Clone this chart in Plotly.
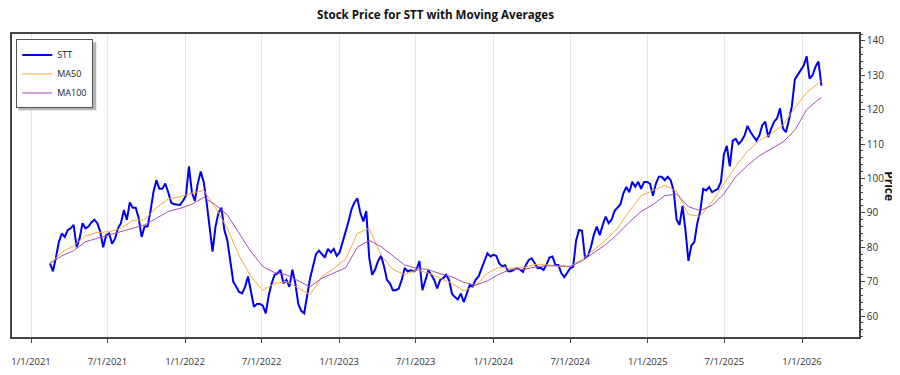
import pandas as pd
import plotly.graph_objects as go

# ---------------- data ----------------
start_date = "2021-02-15"          # first weekly sample
step = "7D"

stt_price = [
    75.3, 73.0, 77.0, 81.5, 84.0, 83.0, 85.0, 85.5, 86.5, 80.0,
    82.5, 87.0, 85.5, 86.0, 87.2, 88.0, 87.0, 84.5, 80.0, 83.5,
    84.0, 81.0, 82.5, 85.5, 87.0, 90.8, 88.0, 93.0, 91.5, 91.5,
    88.5, 83.0, 86.0, 86.0, 90.5, 96.0, 99.5, 97.0, 97.0, 98.5,
    96.0, 93.0, 92.5, 92.5, 92.3, 93.5, 95.0, 103.5, 96.0, 93.5,
    98.5, 102.0, 99.0, 93.0, 85.0, 78.7, 86.0, 90.0, 91.5, 85.0,
    82.0, 75.5, 70.0, 68.5, 67.0, 66.6, 68.5, 71.5, 67.5, 62.7,
    63.5, 63.5, 63.0, 60.8, 66.0, 69.5, 72.0, 72.4, 73.4, 69.5,
    70.5, 68.5, 73.5, 69.5, 63.5, 61.5, 60.8, 65.6, 71.0, 74.5,
    78.0, 79.0, 78.0, 77.0, 79.5, 78.5, 79.5, 77.5, 78.5, 81.5,
    84.0, 87.5, 91.0, 93.0, 94.2, 90.0, 87.5, 90.5, 77.0, 72.0,
    73.5, 76.0, 77.5, 74.5, 70.5, 69.5, 67.5, 67.5, 68.0, 70.5,
    74.0, 73.0, 73.3, 73.0, 73.5, 76.0, 67.5, 70.5, 73.2, 72.0,
    70.5, 68.0, 70.5, 71.0, 72.0, 70.5, 66.5, 65.5, 64.8, 66.5,
    64.0, 66.5, 69.0, 68.5, 70.5, 71.5, 74.0, 76.0, 78.2, 77.3,
    77.8, 77.5, 75.3, 74.5, 74.8, 73.0, 73.0, 73.5, 73.9, 73.5,
    72.8, 74.8, 76.3, 76.8, 75.5, 73.9, 74.0, 73.4, 75.0, 77.0,
    77.3, 74.8, 74.8, 72.5, 71.3, 72.5, 73.9, 74.3, 82.0, 85.0,
    84.8, 77.0, 77.5, 80.0, 83.6, 86.0, 83.5, 86.5, 88.9, 87.0,
    88.0, 90.5, 91.5, 92.5, 95.7, 97.5, 96.0, 99.0, 97.6, 99.0,
    97.0, 99.0, 99.0, 98.5, 95.0, 98.5, 100.5, 100.5, 99.5, 100.5,
    99.5, 96.5, 88.0, 86.5, 92.0, 85.0, 76.0, 80.5, 81.5, 87.0,
    90.5, 97.0, 96.5, 97.5, 96.0, 96.5, 97.0, 99.0, 107.0, 109.5,
    103.5, 111.0, 111.5, 110.0, 111.0, 112.5, 115.3, 113.5, 112.2, 111.0,
    112.5, 115.5, 116.5, 112.0, 114.5, 116.5, 117.5, 120.4, 114.5, 113.5,
    117.0, 121.0, 128.8, 130.0, 131.5, 132.8, 135.5, 129.0, 130.0, 132.5,
    134.0, 127.0,
]

ma_every = 4   # moving averages read every 4th weekly sample (+ last one)

ma50 = [
    75.3, 78.5, 80.5, 83.3, 84.3, 84.5, 85.5, 87.8, 88.0, 91.5,
    94.0, 94.7, 95.7, 96.5, 91.5, 85.5, 77.5, 71.5, 67.5, 69.5,
    70.0, 68.0, 66.2, 71.5, 73.8, 76.5, 84.0, 85.5, 77.7, 73.6,
    72.0, 73.4, 72.5, 71.0, 69.5, 67.3, 68.8, 72.5, 74.2, 73.9,
    74.0, 75.0, 75.0, 74.4, 74.4, 76.5, 79.2, 82.0, 85.5, 90.5,
    95.0, 96.4, 98.0, 96.3, 89.5, 89.0, 93.2, 98.5, 103.5, 107.9,
    111.0, 113.0, 115.5, 120.5, 125.0, 127.7, 128.2,
]

ma100 = [
    75.3, 77.5, 79.0, 81.6, 82.6, 83.6, 84.5, 85.5, 86.5, 88.4,
    90.4, 91.3, 92.5, 94.5, 92.3, 89.4, 84.0, 78.7, 74.4, 72.6,
    72.0, 70.3, 68.5, 71.0, 72.4, 74.0, 80.0, 82.0, 80.2, 77.5,
    74.8, 73.9, 73.5, 72.3, 71.4, 69.8, 69.0, 70.2, 72.2, 73.6,
    73.5, 74.2, 74.6, 74.6, 74.4, 76.0, 78.4, 80.8, 83.8, 87.3,
    90.4, 92.4, 95.0, 95.5, 91.8, 90.6, 92.2, 95.5, 100.5, 103.8,
    106.6, 108.6, 110.6, 114.0, 120.0, 123.0, 123.4,
]

tick_dates = ["2021-01-01", "2021-07-01", "2022-01-01", "2022-07-01",
              "2023-01-01", "2023-07-01", "2024-01-01", "2024-07-01",
              "2025-01-01", "2025-07-01", "2026-01-01"]
tick_labels = ["1/1/2021", "7/1/2021", "1/1/2022", "7/1/2022", "1/1/2023",
               "7/1/2023", "1/1/2024", "7/1/2024", "1/1/2025", "7/1/2025",
               "1/1/2026"]

x_range = ["2020-11-17", "2026-05-16"]
y_range = [53.9, 142.0]

# ---------------- build ----------------
dates = pd.date_range(start_date, periods=len(stt_price), freq=step)
ma_idx = list(range(0, len(stt_price), ma_every))
if ma_idx[-1] != len(stt_price) - 1:
    ma_idx.append(len(stt_price) - 1)
ma_dates = dates[ma_idx]

FONT = "Open Sans, Noto Sans, sans-serif"

# the page body adds an 8px offset, so the figure is 8px smaller
FIG_W, FIG_H = 892, 367

fig = go.Figure()
fig.add_trace(go.Scatter(x=dates, y=stt_price, mode="lines", name="STT",
                         line=dict(color="#0000EE", width=2)))
fig.add_trace(go.Scatter(x=ma_dates, y=ma50, mode="lines", name="MA50",
                         line=dict(color="#F2AC3C", width=1)))
fig.add_trace(go.Scatter(x=ma_dates, y=ma100, mode="lines", name="MA100",
                         line=dict(color="#A050B8", width=1)))

# legend drop shadow (decoration only)
fig.add_shape(type="rect", xref="paper", yref="paper",
              x0=0.0075, x1=0.0995, y0=0.748, y1=0.973,
              fillcolor="#B5B5B5", line=dict(width=0), layer="above")

fig.update_layout(
    width=FIG_W, height=FIG_H,
    margin=dict(l=4, r=41, t=26, b=38, autoexpand=False),
    paper_bgcolor="white", plot_bgcolor="white",
    font=dict(family=FONT, size=10, color="#333"),
    title=dict(text="<b>Stock Price for STT with Moving Averages</b>",
               x=0.5, xref="paper", xanchor="center",
               y=1 - 6.5 / FIG_H, yref="container", yanchor="middle",
               font=dict(family=FONT, size=11.6, color="#111")),
    showlegend=True,
    legend=dict(x=0.005, y=0.982, xanchor="left", yanchor="top",
                bgcolor="white", bordercolor="#555", borderwidth=1,
                font=dict(family=FONT, size=9, color="#222"),
                itemwidth=30, tracegroupgap=0),
)

fig.update_xaxes(
    range=x_range, type="date", automargin=False,
    tickmode="array", tickvals=tick_dates, ticktext=tick_labels,
    ticks="outside", ticklen=4, tickcolor="#444", tickwidth=1,
    ticklabelstandoff=11,
    showgrid=True, gridcolor="#E6E6E6", gridwidth=1,
    showline=True, linecolor="#444", linewidth=1.5, mirror=True,
    zeroline=False, tickfont=dict(size=9.5, color="#333"),
)
fig.update_yaxes(
    range=y_range, side="right", dtick=10, tick0=0, automargin=False,
    ticks="outside", ticklen=4, tickcolor="#444", tickwidth=1,
    minor=dict(dtick=2, ticks="outside", ticklen=2, tickcolor="#444", showgrid=False),
    showgrid=False,
    showline=True, linecolor="#444", linewidth=1.5, mirror=True,
    zeroline=False, tickfont=dict(size=10, color="#333"),
)

fig.add_annotation(text="<b>Price</b>", xref="paper", yref="paper",
                   x=1.0365, y=0.498, xanchor="center", yanchor="middle",
                   textangle=90, showarrow=False,
                   font=dict(family=FONT, size=12, color="#111"))

fig.write_html("out.html")
